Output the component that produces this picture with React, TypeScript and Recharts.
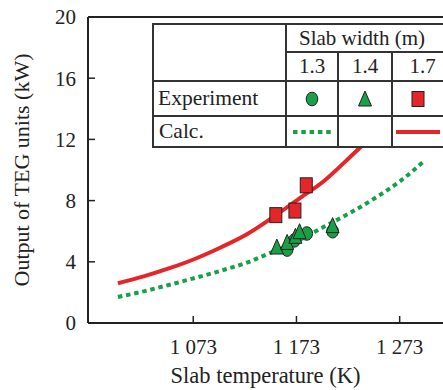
import React from 'react';
import { ComposedChart, Line, Scatter, XAxis, YAxis, ReferenceLine, Legend, Label } from 'recharts';

// ---- data ----
const calc13 = [
  { t: 1000, v: 1.7 }, { t: 1025, v: 2.07 }, { t: 1050, v: 2.5 }, { t: 1075, v: 2.95 },
  { t: 1100, v: 3.42 }, { t: 1125, v: 3.95 }, { t: 1150, v: 4.65 }, { t: 1175, v: 5.4 },
  { t: 1200, v: 6.3 }, { t: 1225, v: 7.2 }, { t: 1250, v: 8.2 }, { t: 1275, v: 9.35 },
  { t: 1297, v: 10.6 },
];
const calc17 = [
  { t: 1000, v: 2.6 }, { t: 1025, v: 3.05 }, { t: 1050, v: 3.58 }, { t: 1075, v: 4.2 },
  { t: 1100, v: 4.95 }, { t: 1125, v: 5.8 }, { t: 1150, v: 6.9 }, { t: 1175, v: 8.1 },
  { t: 1200, v: 9.3 }, { t: 1225, v: 10.85 }, { t: 1250, v: 12.5 }, { t: 1275, v: 14.4 },
];
const exp13 = [
  { t: 1164, v: 4.8 }, { t: 1171, v: 5.4 }, { t: 1183, v: 5.85 }, { t: 1208, v: 6.0 },
];
const exp14 = [
  { t: 1154, v: 4.9 }, { t: 1164, v: 5.2 }, { t: 1172, v: 5.6 }, { t: 1176, v: 5.9 }, { t: 1208, v: 6.3 },
];
const exp17 = [
  { t: 1153, v: 7.05 }, { t: 1171.5, v: 7.35 }, { t: 1182.5, v: 9.0 },
];
const xTicks = [1073, 1173, 1273];
const yTicks = [0, 4, 8, 12, 16, 20];
const widths = ['1.3', '1.4', '1.7'];

const RED = '#e52629';
const GREEN = '#17a046';
const INK = '#222';
const FONT = '"Liberation Serif", "DejaVu Serif", serif';

const fmtT = (v: number) => `${Math.floor(v / 1000)} ${String(v % 1000).padStart(3, '0')}`;

const YTick = (props: any) => {
  const { x, y, payload } = props;
  return (
    <g>
      <line x1={x} x2={x + 7} y1={y} y2={y} stroke={INK} strokeWidth={1.5} />
      <text x={x - 12} y={y} dy="0.35em" textAnchor="end" fontSize={21} fill={INK}>{payload.value}</text>
    </g>
  );
};

const XTick = (props: any) => {
  const { x, y, payload } = props;
  return (
    <g>
      <line x1={x} x2={x} y1={y} y2={y - 7} stroke={INK} strokeWidth={1.5} />
      <text x={x} y={y + 31} textAnchor="middle" fontSize={21} fill={INK}>{fmtT(payload.value)}</text>
    </g>
  );
};

const Circ = (p: any) => <ellipse cx={p.cx} cy={p.cy} rx={5.8} ry={6.8} fill={GREEN} stroke={INK} strokeWidth={1} />;
const Tri = (p: any) => (
  <polygon points={`${p.cx},${p.cy - 9} ${p.cx - 6.5},${p.cy + 6} ${p.cx + 6.5},${p.cy + 6}`} fill={GREEN} stroke={INK} strokeWidth={1} />
);
const Sq = (p: any) => <rect x={p.cx - 6} y={p.cy - 7.5} width={12} height={15} fill={RED} stroke={INK} strokeWidth={1} />;

const cell: React.CSSProperties = {
  border: `2px solid #333`, padding: 0, lineHeight: 1, verticalAlign: 'middle', textAlign: 'center',
};

const TableLegend = () => (
  <table style={{ borderCollapse: 'collapse', tableLayout: 'fixed', width: 300, background: '#fff', fontSize: 21, color: INK, fontFamily: FONT }}>
    <colgroup>
      <col style={{ width: 133 }} /><col style={{ width: 52 }} /><col style={{ width: 54 }} /><col style={{ width: 61 }} />
    </colgroup>
    <tbody>
      <tr style={{ height: 28 }}>
        <td rowSpan={2} style={cell} />
        <td colSpan={3} style={{ ...cell, textAlign: 'left', paddingLeft: 12 }}>Slab width (m)</td>
      </tr>
      <tr style={{ height: 29 }}>
        {widths.map((w) => <td key={w} style={cell}>{w}</td>)}
      </tr>
      <tr style={{ height: 35 }}>
        <td style={{ ...cell, textAlign: 'left', paddingLeft: 4, fontSize: 21.5 }}>Experiment</td>
        <td style={cell}><svg width={16} height={18} style={{ display: 'block', margin: '0 auto' }}><Circ cx={8} cy={9} /></svg></td>
        <td style={cell}><svg width={16} height={18} style={{ display: 'block', margin: '0 auto' }}><Tri cx={8} cy={10} /></svg></td>
        <td style={{ ...cell, textAlign: 'left', paddingLeft: 17 }}><svg width={16} height={18} style={{ display: 'block' }}><Sq cx={8} cy={9} /></svg></td>
      </tr>
      <tr style={{ height: 31 }}>
        <td style={{ ...cell, textAlign: 'left', paddingLeft: 5, fontSize: 21.5 }}>Calc.</td>
        <td style={cell}><svg width={42} height={6} style={{ display: 'block', margin: '0 auto' }}><line x1={2} x2={41} y1={3} y2={3} stroke={GREEN} strokeWidth={4} strokeDasharray="4.5 3.8" /></svg></td>
        <td style={cell} />
        <td style={{ ...cell, textAlign: 'left', paddingLeft: 3 }}><svg width={44} height={6} style={{ display: 'block' }}><line x1={0} x2={44} y1={3} y2={3} stroke={RED} strokeWidth={4} /></svg></td>
      </tr>
    </tbody>
  </table>
);

const YLabel = (props: any) => {
  const vb = props.viewBox || { x: 0, y: 17, width: 88, height: 306 };
  const cx = 29;
  const cy = vb.y + vb.height / 2;
  return (
    <text x={cx} y={cy} transform={`rotate(-90, ${cx}, ${cy})`} textAnchor="middle" fontSize={22} fill={INK}>
      Output of TEG units (kW)
    </text>
  );
};

export default function App() {
  return (
    <div style={{ position: 'absolute', left: 0, top: 0, width: 443, height: 390, overflow: 'hidden', background: '#fff', fontFamily: FONT }}>
      <ComposedChart width={443} height={390} margin={{ top: 17, right: 0, bottom: 0, left: 0 }}>
        <XAxis
          type="number"
          dataKey="t"
          domain={[971, 1315]}
          allowDataOverflow
          ticks={xTicks}
          tickSize={0}
          tickMargin={0}
          tickLine={false}
          tick={<XTick />}
          height={67}
          axisLine={{ stroke: INK, strokeWidth: 2 }}
        >
          <Label value="Slab temperature (K)" position="insideBottom" offset={7} fontSize={22.5} fill={INK} />
        </XAxis>
        <YAxis
          type="number"
          dataKey="v"
          domain={[0, 20]}
          ticks={yTicks}
          tickSize={0}
          tickMargin={0}
          tickLine={false}
          tick={<YTick />}
          width={88}
          axisLine={{ stroke: INK, strokeWidth: 2 }}
          label={<YLabel />}
        />
        <ReferenceLine y={20} stroke={INK} strokeWidth={2} ifOverflow="extendDomain" />
        <Line data={calc17} dataKey="v" type="monotone" stroke={RED} strokeWidth={4} dot={false} isAnimationActive={false} />
        <Line data={calc13} dataKey="v" type="monotone" stroke={GREEN} strokeWidth={4} strokeDasharray="4.5 3.8" dot={false} isAnimationActive={false} />
        <Scatter data={exp17} dataKey="v" shape={<Sq />} isAnimationActive={false} />
        <Scatter data={exp13} dataKey="v" shape={<Circ />} isAnimationActive={false} />
        <Scatter data={exp14} dataKey="v" shape={<Tri />} isAnimationActive={false} />
        <Legend
          layout="horizontal"
          verticalAlign="middle"
          align="center"
          content={<TableLegend />}
          wrapperStyle={{ top: 23, left: 152, width: 300 }}
        />
      </ComposedChart>
    </div>
  );
}
